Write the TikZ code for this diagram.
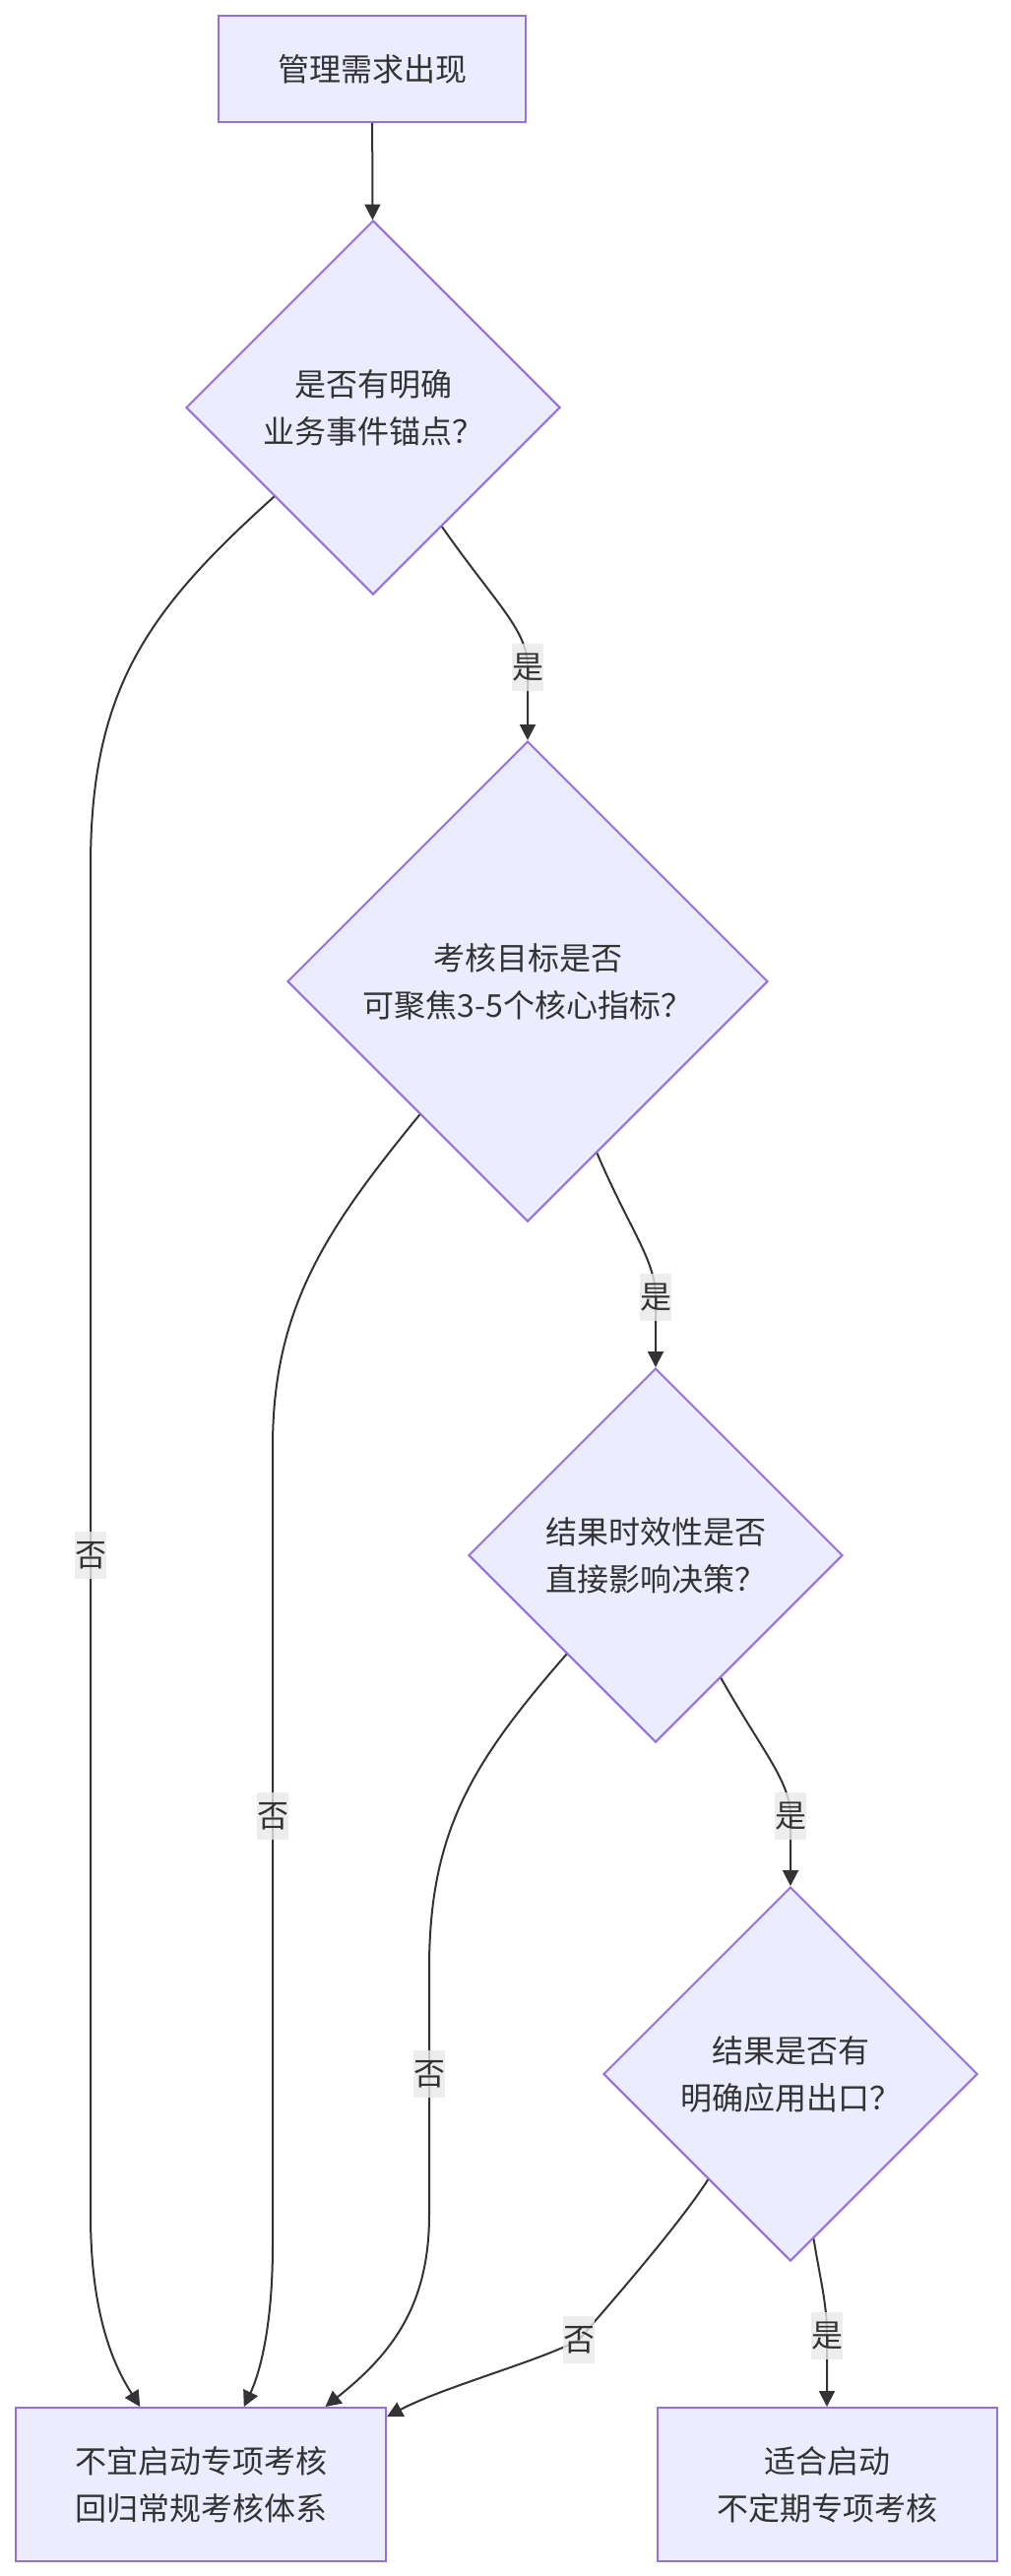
\documentclass[tikz,border=0pt]{standalone}
\usepackage{fontspec}
\setmainfont{Noto Sans CJK SC}
\usetikzlibrary{arrows.meta, shapes.geometric}
\definecolor{nodefill}{HTML}{ECECFF}
\definecolor{nodeline}{HTML}{9370DB}
\definecolor{ink}{HTML}{333333}
\definecolor{tagfill}{HTML}{E8E8E8}
\tikzset{
  box/.style={rectangle,draw=nodeline,fill=nodefill,line width=1pt,align=center,inner sep=0pt,text=ink},
  decision/.style={diamond,draw=nodeline,fill=nodefill,line width=1pt,aspect=1,align=center,inner sep=0pt,text=ink},
  line/.style={-{Triangle[length=8pt,width=8pt]},draw=ink,line width=1pt},
  tag/.style={fill=tagfill,fill opacity=0.8,text opacity=1,text=ink,inner sep=0pt,minimum width=16pt,minimum height=24pt}
}

\begin{document}
\begin{tikzpicture}[x=0.5pt,y=-0.5pt,font=\fontsize{16}{24}\selectfont]
\useasboundingbox (0,0) rectangle (1027,2617);
\node[box, minimum width=156pt, minimum height=54pt] (start) at (378,70) {管理需求出现};
\node[decision, minimum width=190pt, minimum height=190pt] (q1) at (379,414) {是否有明确\\业务事件锚点？};
\node[decision, minimum width=244pt, minimum height=244pt] (q2) at (536,997) {考核目标是否\\可聚焦3-5个核心指标？};
\node[decision, minimum width=190pt, minimum height=190pt] (q3) at (666,1580) {结果时效性是否\\直接影响决策？};
\node[decision, minimum width=190pt, minimum height=190pt] (q4) at (803,2107) {结果是否有\\明确应用出口？};
\node[box, minimum width=188pt, minimum height=78pt] (no) at (204,2524) {不宜启动专项考核\\回归常规考核体系};
\node[box, minimum width=172.5pt, minimum height=78pt] (yes) at (840,2524) {适合启动\\不定期专项考核};
\draw[line] (start) -- (q1);
\draw[line] (q1.-60) .. controls (505,615) and (536,640) .. (536,678) node[tag] (y1) {是} -- (q2.north);
\draw[line] (q1.-138) .. controls (150,620) and (92,700) .. (92,880) -- (92,1580) node[tag] (n1) {否}
  -- (92,2250) .. controls (92,2360) and (120,2410) .. (no.128);
\draw[line] (q2.-68) .. controls (640,1250) and (666,1280) .. (666,1318) node[tag] (y2) {是} -- (q3.north);
\draw[line] (q2.-129) .. controls (330,1250) and (277,1330) .. (277,1470) -- (277,1845) node[tag] (n2) {否}
  -- (277,2280) .. controls (277,2370) and (262,2415) .. (no.61);
\draw[line] (q3.-62) .. controls (775,1780) and (803,1810) .. (803,1845) node[tag] (y3) {是} -- (q4.north);
\draw[line] (q3.-132) .. controls (480,1790) and (436,1860) .. (436,2000) -- (436,2107) node[tag] (n3) {否}
  -- (436,2250) .. controls (436,2340) and (400,2390) .. (no.32);
\draw[line] (q4.-128) .. controls (690,2260) and (620,2340) .. (588,2377) node[tag] (n4) {否}
  .. controls (550,2398) and (450,2425) .. (no.20);
\draw[line] (q4.-82) .. controls (834,2320) and (840,2340) .. (840,2373) node[tag] (y4) {是} -- (yes.north);
\end{tikzpicture}
\end{document}
